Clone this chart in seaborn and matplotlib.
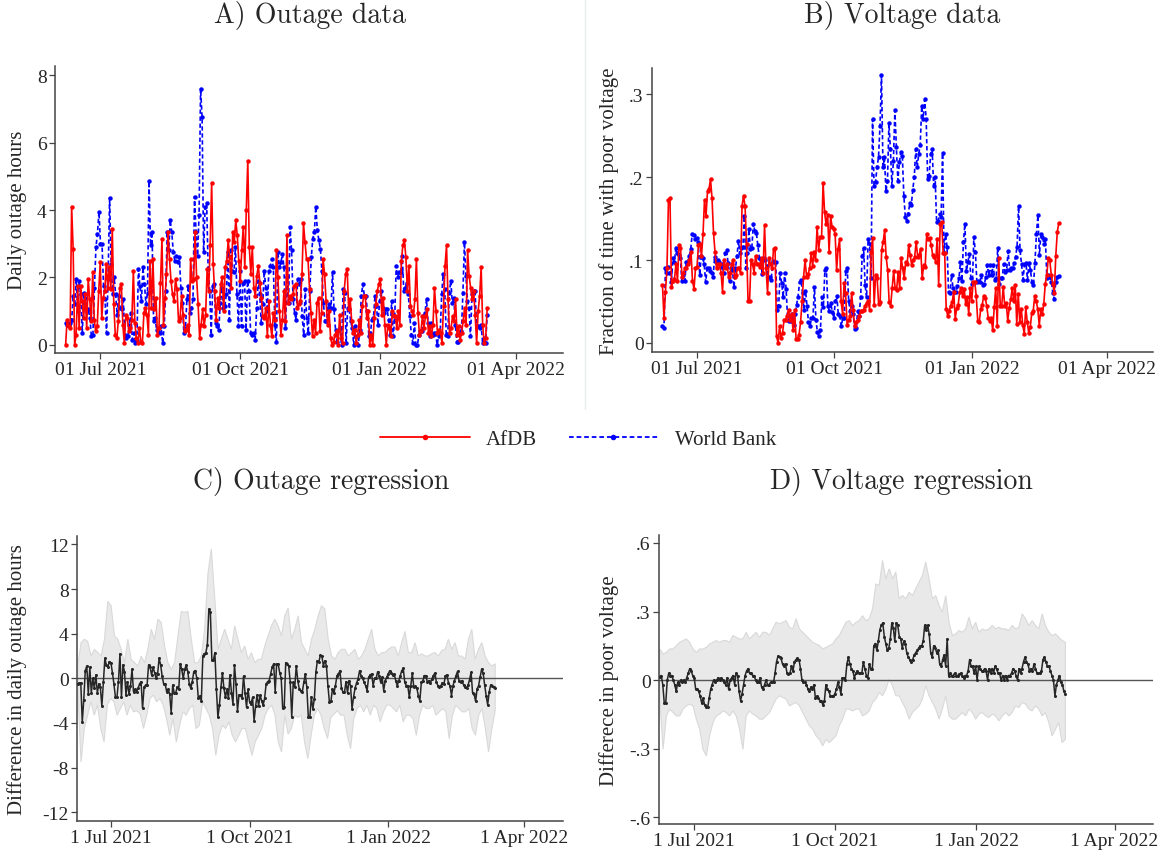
import numpy as np
import pandas as pd
import matplotlib
matplotlib.use("Agg")
import matplotlib.pyplot as plt
import matplotlib.dates as mdates
from matplotlib.lines import Line2D
import seaborn as sns

# ---------------- data ----------------
out_start, out_end = "2021-06-08", "2022-03-13"
volt_start, volt_end = "2021-06-08", "2022-02-28"
reg_out_start, reg_out_end = "2021-06-09", "2022-03-13"
reg_volt_start, reg_volt_end = "2021-06-09", "2022-02-28"

out_afdb = [0, 0.75, 0.55, 0.5, 4.1, 2.85, 0, 0.3, 1.75, 0.5, 1.75, 1.3, 0.8, 1.5, 0.5, 1.95, 1.35, 0.7, 2.15, 0.75,
            0.4, 0.55, 1.6, 2.45, 0.8, 1.4, 1.6, 2.4, 1.7, 2.3, 1.65, 3.45, 1.2, 0.3, 0.2, 0.7, 1.7, 1.8, 0.6, 0.05,
            0.9, 0.8, 0.4, 0.5, 0.75, 2.2, 0.65, 0.2, 0.05, 0.5, 0.1, 0.05, 0.95, 1.1, 0.9, 0.3, 2.5, 1.1, 2.55, 1.05,
            1.4, 0.3, 0.5, 1.85, 3.15, 0.6, 1.4, 2.1, 3.35, 2.55, 1.9, 1.5, 1.3, 1.95, 1.65, 0.7, 0.8, 1.45, 0.9, 0.4,
            0.45, 0.6, 0.3, 2.55, 1.9, 1.95, 3.35, 2.0, 1.2, 0.2, 0.6, 1.05, 0.55, 0.9, 2.25, 1.6, 2.95, 4.8, 2.4, 1.6,
            0.75, 1.4, 1.1, 1.8, 2.0, 1.0, 2.3, 2.5, 3.1, 2.6, 1.7, 3.35, 3.05, 3.7, 3.25, 2.5, 1.9, 2.8, 3.5, 2.3,
            4.0, 5.45, 2.9, 2.1, 2.9, 1.7, 1.45, 2.05, 2.35, 1.85, 1.4, 0.85, 0.8, 1.1, 0.25, 1.3, 0.6, 0.25, 0.95, 0.75,
            2.8, 2.0, 1.0, 0.3, 0.75, 1.6, 0.7, 3.25, 1.25, 1.45, 1.35, 1.5, 1.75, 1.8, 1.1, 1.2, 1.3, 2.1, 3.6, 3.05,
            2.55, 2.55, 1.65, 0.95, 0.25, 0.75, 0.35, 1.25, 1.4, 0.4, 0.95, 2.55, 2.1, 1.3, 0.6, 1.0, 0.2, 0.0, 0.1, 0.3,
            0.4, 0.0, 0.9, 0.2, 0.05, 1.6, 2.1, 2.25, 1.05, 1.35, 0.7, 0.35, 0.45, 0.05, 0.3, 0.75, 0.35, 1.15, 1.45, 1.45,
            0.8, 1.0, 0.0, 0.3, 0.0, 0.8, 1.2, 1.6, 1.8, 1.95, 0.9, 1.4, 0.6, 0.0, 0.6, 0.5, 0.25, 1.0, 0.85, 0.85,
            0.5, 1.0, 0.6, 2.5, 2.95, 3.1, 2.6, 1.6, 2.35, 1.15, 1.0, 0.9, 1.35, 2.55, 0.95, 0.3, 0.4, 0.85, 0.5, 0.85,
            1.05, 0.35, 0.55, 0.25, 0.6, 1.7, 1.0, 0.35, 0.45, 0.35, 0.05, 1.15, 2.35, 2.95, 1.35, 0.35, 0.5, 0.85, 0.7, 1.35,
            0.3, 0.55, 0.15, 0.35, 0.7, 1.1, 0.6, 2.8, 2.05, 1.7, 1.35, 1.6, 0.9, 0.05, 1.0, 1.45, 2.3, 0.6, 0.05, 0.2,
            1.1]
out_wb = [0.65, 0.6, 0.6, 0.65, 0.75, 1.45, 1.2, 1.95, 1.0, 1.9, 1.5, 0.35, 1.55, 1.4, 1.0, 1.05, 0.8, 0.25, 0.3, 1.7,
          2.9, 3.3, 3.95, 3.0, 3.0, 1.75, 1.35, 0.35, 1.95, 4.35, 2.4, 1.5, 2.0, 1.5, 0.9, 1.45, 1.1, 1.05, 1.35, 0.3,
          0.2, 0.25, 0.6, 0.95, 0.15, 0.35, 0.05, 0.15, 2.25, 1.75, 1.3, 2.3, 1.8, 1.2, 1.55, 4.85, 2.95, 3.35, 0.7, 0.8,
          0.45, 0.4, 0.35, 0.55, 0.05, 0.55, 1.6, 3.35, 2.8, 3.7, 3.35, 2.75, 2.5, 2.65, 2.45, 2.6, 1.7, 1.25, 0.35, 0.5,
          1.35, 1.75, 0.95, 1.1, 1.35, 4.4, 3.35, 2.65, 3.85, 7.6, 6.75, 2.75, 4.1, 4.2, 2.25, 1.6, 0.3, 1.75, 1.8, 0.65,
          0.55, 0.45, 1.25, 1.7, 1.1, 1.15, 1.5, 2.75, 0.75, 2.8, 2.2, 2.15, 2.9, 1.5, 0.55, 2.2, 0.55, 1.85, 1.9, 0.45,
          1.9, 1.6, 0.35, 0.3, 0.35, 0.15, 1.1, 1.9, 1.5, 0.65, 1.2, 2.2, 1.7, 1.0, 2.2, 2.35, 2.55, 2.3, 0.6, 0.1,
          2.75, 2.3, 2.45, 2.7, 2.3, 0.5, 2.0, 1.25, 3.5, 2.8, 1.35, 0.95, 0.75, 1.95, 1.8, 1.95, 0.85, 0.3, 1.65, 0.8,
          0.35, 1.6, 2.6, 3.15, 3.35, 4.1, 3.4, 3.1, 2.85, 2.2, 1.25, 0.7, 0.7, 1.1, 1.2, 1.1, 2.15, 1.05, 0.45, 0.1,
          0.45, 0.5, 0.0, 1.65, 1.55, 0.05, 1.1, 1.05, 0.7, 0.5, 0.0, 0.55, 0.25, 0.0, 0.45, 1.45, 1.8, 1.45, 1.45, 1.0,
          0.25, 0.35, 0.75, 0.8, 1.45, 1.15, 0.6, 1.3, 1.6, 1.1, 0.95, 1.05, 1.05, 0.75, 0.3, 1.3, 0.25, 0.75, 2.35, 2.0,
          2.15, 2.15, 2.65, 1.6, 1.7, 1.85, 1.5, 0.85, 0.3, 0.05, 0.65, 0.0, 0.0, 0.3, 0.4, 0.4, 0.85, 0.95, 1.35, 0.65,
          0.25, 0.65, 0.3, 0.35, 0.35, 0.0, 0.25, 0.35, 1.5, 2.1, 1.65, 0.3, 0.25, 1.55, 1.9, 1.25, 1.4, 0.6, 0.1, 0.1,
          0.35, 0.4, 1.55, 3.05, 2.05, 1.3, 1.1, 0.25, 1.5, 1.6, 1.6, 0.55, 0.55, 0.5, 0.6, 0.05, 0.2, 0.05, 0.9]

volt_afdb = [0.07, 0.03, 0.062, 0.09, 0.173, 0.175, 0.068, 0.075, 0.077, 0.095, 0.075, 0.118, 0.115, 0.08, 0.085, 0.09,
             0.09, 0.095, 0.1, 0.11, 0.075, 0.065, 0.09, 0.092, 0.118, 0.12, 0.105, 0.131, 0.173, 0.153, 0.183, 0.186,
             0.198, 0.175, 0.133, 0.11, 0.09, 0.095, 0.095, 0.085, 0.062, 0.1, 0.09, 0.095, 0.08, 0.085, 0.095, 0.1,
             0.08, 0.082, 0.09, 0.09, 0.085, 0.165, 0.178, 0.165, 0.12, 0.05, 0.05, 0.1, 0.095, 0.085, 0.105, 0.095,
             0.095, 0.092, 0.103, 0.085, 0.142, 0.09, 0.06, 0.103, 0.095, 0.09, 0.113, 0.115, 0.008, 0.0, 0.02, 0.006,
             0.012, 0.028, 0.028, 0.033, 0.04, 0.028, 0.035, 0.015, 0.04, 0.005, 0.005, 0.01, 0.025, 0.05, 0.08, 0.1,
             0.08, 0.083, 0.09, 0.108, 0.093, 0.11, 0.1, 0.14, 0.112, 0.128, 0.128, 0.193, 0.158, 0.143, 0.155, 0.11,
             0.153, 0.14, 0.137, 0.132, 0.088, 0.114, 0.125, 0.05, 0.035, 0.072, 0.06, 0.022, 0.028, 0.032, 0.06, 0.04,
             0.02, 0.025, 0.028, 0.032, 0.038, 0.038, 0.04, 0.045, 0.048, 0.05, 0.04, 0.11, 0.127, 0.046,
             0.082, 0.078, 0.047, 0.049, 0.112, 0.122, 0.136, 0.104, 0.088, 0.049, 0.045, 0.066, 0.087, 0.066, 0.064,
             0.086, 0.066, 0.103, 0.09, 0.078, 0.098, 0.095, 0.118, 0.106, 0.094, 0.1, 0.104, 0.122, 0.104, 0.106,
             0.114, 0.078, 0.094, 0.092, 0.131, 0.125, 0.127, 0.118, 0.106, 0.104, 0.098, 0.126, 0.07, 0.144, 0.146,
             0.108, 0.108, 0.041, 0.033, 0.038, 0.045, 0.049, 0.062, 0.029, 0.042, 0.046, 0.062, 0.066, 0.057, 0.065,
             0.047, 0.055, 0.035, 0.066, 0.051, 0.074, 0.074, 0.057, 0.027, 0.025, 0.041, 0.046, 0.057, 0.054, 0.045,
             0.03, 0.027, 0.03, 0.015, 0.043, 0.066, 0.021, 0.102, 0.045, 0.045, 0.068, 0.044, 0.048, 0.027, 0.042,
             0.053, 0.066, 0.05, 0.07, 0.023, 0.059, 0.025, 0.041, 0.022, 0.011, 0.043, 0.025, 0.012, 0.019, 0.036,
             0.039, 0.057, 0.05, 0.041, 0.021, 0.041, 0.035, 0.047, 0.071, 0.082, 0.102, 0.1, 0.082, 0.071, 0.06,
             0.105, 0.134, 0.145]
volt_wb = [0.02, 0.018, 0.09, 0.085, 0.092, 0.085, 0.073, 0.102, 0.098, 0.115, 0.108, 0.106, 0.102, 0.075, 0.082, 0.075,
           0.098, 0.098, 0.105, 0.114, 0.132, 0.13, 0.125, 0.127, 0.122, 0.082, 0.105, 0.103, 0.095, 0.073, 0.09, 0.09,
           0.087, 0.085, 0.08, 0.104, 0.098, 0.1, 0.098, 0.092, 0.095, 0.085, 0.108, 0.112, 0.097, 0.075, 0.09, 0.088,
           0.067, 0.09, 0.105, 0.123, 0.108, 0.115, 0.116, 0.153, 0.09, 0.108, 0.137, 0.113, 0.115, 0.144, 0.135, 0.133,
           0.118, 0.103, 0.1, 0.083, 0.102, 0.1, 0.093, 0.079, 0.08, 0.076, 0.099, 0.098, 0.098, 0.04, 0.045, 0.085,
           0.072, 0.055, 0.085, 0.065, 0.028, 0.027, 0.026, 0.035, 0.022, 0.035, 0.046, 0.056, 0.073, 0.076, 0.06, 0.04,
           0.063, 0.045, 0.025, 0.02, 0.03, 0.03, 0.067, 0.028, 0.013, 0.008, 0.015, 0.055, 0.043, 0.088, 0.09, 0.045,
           0.038, 0.048, 0.037, 0.03, 0.05, 0.057, 0.035, 0.033, 0.02, 0.03, 0.03, 0.087, 0.09, 0.05, 0.038, 0.045,
           0.035, 0.017, 0.018, 0.038, 0.033, 0.055, 0.105, 0.115, 0.07, 0.055, 0.125, 0.12, 0.078,
           0.27, 0.19, 0.194, 0.212, 0.224, 0.262, 0.323, 0.212, 0.224, 0.183, 0.195, 0.265, 0.234, 0.19, 0.22, 0.281,
           0.236, 0.196, 0.218, 0.23, 0.226, 0.178, 0.152, 0.147, 0.156, 0.169, 0.166, 0.185, 0.2, 0.234, 0.212, 0.228,
           0.239, 0.286, 0.271, 0.294, 0.27, 0.198, 0.202, 0.228, 0.234, 0.19, 0.2, 0.146, 0.147, 0.156, 0.152, 0.229,
           0.108, 0.131, 0.116, 0.062, 0.06, 0.082, 0.066, 0.062, 0.061, 0.069, 0.078, 0.098, 0.075, 0.122, 0.144,
           0.087, 0.098, 0.107, 0.078, 0.071, 0.128, 0.11, 0.074, 0.075, 0.074, 0.082, 0.07, 0.071, 0.079, 0.094,
           0.082, 0.094, 0.082, 0.094, 0.076, 0.078, 0.115, 0.071, 0.078, 0.078, 0.095, 0.086, 0.088, 0.111, 0.088,
           0.09, 0.09, 0.096, 0.104, 0.116, 0.165, 0.112, 0.095, 0.076, 0.095, 0.096, 0.076, 0.097, 0.088, 0.073,
           0.07, 0.097, 0.132, 0.154, 0.106, 0.131, 0.128, 0.12, 0.126, 0.078, 0.082, 0.079, 0.074, 0.06, 0.053,
           0.074, 0.079, 0.081]

reg_out = [-0.5, -0.4, -0.4, -3.9, -1.9, 0.7, 1.1, -1.4, 1.0, -1.3, 0.0, -0.9, 0.3, -1.3, -0.5, -0.8, -2.5, -0.3, 1.8, 1.2,
           1.0, 1.5, 1.4, 0.5, -0.5, -1.7, -1.7, -0.3, 2.2, -1.7, 1.2, 0.6, -1.5, -0.3, -1.4, -0.7, 0.8, -1.2, -1.0, -1.2,
           -0.9, -0.5, -0.3, -2.7, -0.8, -0.6, -0.6, 1.2, 1.0, 0.3, 1.0, 0.5, 0.0, 0.4, 1.8, 1.2, 0.2, -0.5, -0.5, -1.2,
           -1.0, -1.4, -3.1, -0.6, -1.3, -1.3, -0.8, -1.0, 1.3, 0.8, 0.0, 0.8, 1.2, 0.6, -0.5, -0.9, -0.3, 0.6, 0.7, 0.0,
           -1.8, -1.6, -2.0, 2.0, 2.2, 2.3, 3.0, 6.2, 5.9, 1.6, 1.6, 2.3, -1.0, -3.5, -2.4, -0.8, 0.5, -0.9, -1.7, -1.0,
           -1.8, 0.3, -1.3, -2.3, 1.2, -0.5, -2.9, -1.5, -1.5, -1.8, 0.2, -1.3, -2.6, -1.0, -2.1, -2.3, -1.7, -3.8, -2.5,
           -1.5, -2.5, -1.5, -2.0, -2.4, -1.8, -0.5, -0.3, -0.2, 0.4, 1.0, 1.3, -1.2, 1.3, 1.3, 0.5, 0.0, -2.7, -2.6, 1.4,
           1.3, 1.07, -0.36, -3.47, -0.36, -0.8, 1.13, -0.21, -0.95, -1.1, -1.24, -0.36, 0.39, -0.8, -3.47, -3.47,
           -1.69, -2.73, -1.84, 0.53, 1.57, 1.48, 2.07, 1.96, 1.13, 1.57, 1.13, -0.65, -2.13, -2.07, -0.95, -1.3,
           -0.65, 0.24, 0.39, 0.68, -0.89, -1.24, -1.24, -0.3, -1.3, -0.21, -0.65, -2.73, -1.69, -0.89, -0.41, -0.06,
           0.68, 0.24, 0.03, -0.36, -0.65, -1.1, 0.09, 0.3, 0.39, -0.65, 0.0, 0.0, 0.59, 0.24, -0.36, 0.09, -1.1,
           -0.21, 0.09, 0.39, 0.68, 0.47, 0.3, 0.39, -0.21, -0.65, -0.21, 0.24, 0.68, 0.89, -0.36, -0.65, -0.65, -1.69,
           -0.65, 0.47, -0.8, -0.71, -0.89, -1.54, -2.01, -0.36, -0.21, 0.24, 0.24, -0.36, -0.21, -0.41, -0.06, 0.24,
           0.47, -0.36, -0.65, -0.8, -0.65, -0.41, -0.5, 0.24, 0.3, -0.41, -0.65, -1.54, -0.65, -0.21, 0.24, 0.62,
           -0.21, -0.3, -0.21, -0.59, -0.8, -0.89, -0.59, -0.12, 0.53, -1.3, -1.39, -2.07, -0.95, -0.65, 0.09, 0.83,
           0.47, -0.59, -1.54, -2.37, -1.24, -0.59, -0.71, -0.8, -0.89]
reg_out_hi = [1.1, 3.2, 3.5, 3.3, 2.0, 2.6, 2.3, 2.0, 3.5, 6.9, 6.5, 3.8, 3.5, 2.6, 1.4, 3.5, 1.7, 1.4, 1.1, 2.0, 1.4,
              2.6, 4.4, 3.5, 5.3, 5.0, 2.9, 1.4, 0.8, 1.4, 3.8, 6.0, 5.9, 6.0, 3.5, 1.4, 1.4, 2.0, 4.4, 9.4, 11.6, 7.3,
              2.6, 3.5, 4.4, 3.5, 2.6, 4.7, 3.5, 2.3, 2.9, 1.7, 2.3, 1.4, 1.7, 1.7, 2.9, 3.8, 4.7, 5.3, 4.7, 3.8, 5.6,
              6.3, 3.5, 4.4, 5.6, 3.2, 2.6, 2.0, 3.5, 4.4, 5.6, 6.5, 6.2, 3.5, 2.0, 1.7, 2.3, 2.6, 2.6, 2.0, 2.3, 2.6,
              1.7, 2.0, 2.6, 3.5, 4.4, 2.6, 2.0, 2.3, 2.3, 2.6, 2.8, 2.8, 2.0, 3.2, 4.2, 2.3, 2.3, 3.2, 2.0, 2.2, 2.0,
              2.0, 2.2, 2.3, 2.0, 2.5, 2.6, 3.5, 2.6, 3.2, 2.0, 2.0, 1.7, 3.5, 4.4, 1.7, 2.6, 3.2, 2.0, 1.4, 1.1, 1.3]
reg_out_lo = [-0.95, -7.5, -4.5, -3.3, -2.1, -3.3, -2.4, -4.5, -5.7, -2.4, -1.8, -2.1, -3.3, -2.7, -2.1, -3.3, -2.4,
              -3.0, -2.9, -3.2, -4.5, -3.3, -1.8, -1.5, -2.1, -1.8, -2.4, -3.6, -5.1, -3.6, -5.7, -4.2, -3.0, -3.3,
              -2.7, -2.4, -4.5, -4.2, -2.1, -2.7, -3.3, -4.5, -6.9, -5.1, -4.2, -4.5, -3.9, -5.1, -5.7, -5.1, -4.5,
              -4.5, -5.7, -6.9, -5.7, -5.1, -4.5, -3.3, -2.7, -2.4, -3.3, -5.7, -6.6, -3.3, -5.0, -4.5, -3.3, -3.5,
              -3.3, -5.7, -7.2, -5.1, -3.3, -2.7, -3.3, -4.5, -5.4, -3.5, -3.2, -2.9, -3.3, -3.3, -5.1, -6.3, -3.6,
              -2.7, -2.4, -3.0, -2.4, -3.3, -2.4, -2.7, -3.9, -3.0, -2.4, -2.4, -2.7, -3.0, -2.4, -3.9, -3.3, -3.3,
              -3.6, -5.1, -3.3, -2.4, -2.7, -2.7, -2.4, -3.3, -3.0, -2.7, -3.0, -5.4, -3.3, -2.4, -2.7, -3.0, -3.0,
              -2.7, -4.5, -5.1, -3.3, -2.7, -4.5, -6.6, -4.5, -2.9]

reg_volt = [0.015, 0.02, -0.02, -0.1, -0.1, 0.0, 0.03, 0.02, 0.02, 0.0, -0.02, -0.05, -0.01, -0.02, 0.0, -0.01, 0.0,
            -0.01, 0.01, 0.03, 0.05, 0.04, 0.02, 0.01, -0.04, -0.04, -0.05, -0.07, -0.1, -0.08, -0.11, -0.12, -0.12,
            -0.08, -0.04, -0.02, 0.0, -0.01, 0.0, 0.01, 0.0, 0.01, 0.0, -0.01, -0.02, 0.01, -0.04, 0.0, 0.01, 0.02,
            -0.02, 0.03, 0.02, -0.05, -0.09, -0.06, -0.02, 0.02, 0.04, 0.05, 0.03, 0.03, 0.02, 0.02, 0.0, -0.01, -0.01,
            0.01, -0.03, -0.04, -0.02, 0.0, -0.02, -0.02, -0.01, -0.01, -0.01, 0.03, 0.08, 0.105, 0.1, 0.095, 0.07,
            0.06, 0.07, 0.03, 0.025, 0.03, 0.06, 0.04, 0.08, 0.09, 0.095, 0.09, 0.05, 0.0, -0.01, -0.01, -0.02, -0.04,
            -0.05, -0.03, -0.04, -0.02, -0.08, -0.07, -0.08, -0.09, -0.09, -0.11, -0.09, -0.02, -0.04, -0.05, -0.07,
            -0.07, -0.07, -0.06, -0.04, -0.01, -0.03, -0.06, 0.01, 0.01, 0.0, 0.07, 0.1, 0.07, 0.05, 0.04, 0.01, 0.03,
            0.04, 0.03, 0.03, 0.03, 0.08, 0.05, 0.02, 0.01, 0.07, 0.05, 0.05, 0.15, 0.16, 0.13, 0.17,
            0.22, 0.24, 0.25, 0.19, 0.16, 0.13, 0.14, 0.18, 0.25, 0.23, 0.17, 0.25, 0.24, 0.19, 0.18, 0.14, 0.17, 0.16,
            0.12, 0.10, 0.09, 0.08, 0.09, 0.11, 0.12, 0.13, 0.14, 0.15, 0.15, 0.17, 0.24, 0.22, 0.24, 0.2, 0.12, 0.1,
            0.15, 0.14, 0.12, 0.13, 0.07, 0.06, 0.09, 0.11, 0.06, 0.18, 0.02, 0.03, 0.02, 0.02, 0.03, 0.02, 0.02,
            0.025, 0.03, 0.02, 0.01, 0.02, 0.02, 0.04, 0.09, 0.06, 0.06, 0.03, 0.06, 0.0, 0.06, 0.05, 0.04, 0.04,
            0.05, 0.04, 0.0, 0.05, 0.03, 0.05, 0.03, 0.06, 0.05, 0.03, 0.03, 0.0, 0.02, 0.0, 0.02, 0.0, 0.02, 0.02,
            0.03, 0.05, 0.04, 0.02, 0.0, 0.05, 0.03, 0.05, 0.08, 0.1, 0.08, 0.07, 0.04, 0.05, 0.04, 0.07, 0.05, 0.03,
            0.03, 0.03, 0.04, 0.09, 0.1, 0.08, 0.06, 0.06, 0.04, 0.02, 0.0, -0.07, -0.02, 0.0, 0.02, -0.01, -0.02,
            -0.05, -0.06]
reg_volt_hi = [0.136, 0.114, 0.121, 0.136, 0.136, 0.151, 0.165, 0.173, 0.18, 0.165, 0.136, 0.121, 0.136, 0.136, 0.143,
               0.158, 0.165, 0.173, 0.165, 0.173, 0.173, 0.165, 0.195, 0.187, 0.18, 0.18, 0.209, 0.18, 0.195, 0.209,
               0.187, 0.209, 0.209, 0.195, 0.224, 0.253, 0.246, 0.253, 0.26, 0.231, 0.224, 0.268, 0.224, 0.209, 0.195,
               0.18, 0.165, 0.158, 0.151, 0.136, 0.143, 0.151, 0.158, 0.18, 0.195, 0.224, 0.253, 0.26, 0.239, 0.253,
               0.26, 0.282, 0.26, 0.268, 0.312, 0.421, 0.414, 0.524, 0.443, 0.487, 0.443, 0.473, 0.356, 0.37, 0.356,
               0.385, 0.37, 0.4, 0.429, 0.458, 0.517, 0.443, 0.356, 0.37, 0.326, 0.297, 0.37, 0.253, 0.195, 0.202,
               0.217, 0.209, 0.224, 0.275, 0.224, 0.253, 0.209, 0.224, 0.217, 0.224, 0.239, 0.224, 0.231, 0.224, 0.224,
               0.217, 0.239, 0.224, 0.231, 0.29, 0.268, 0.239, 0.26, 0.239, 0.224, 0.29, 0.239, 0.209, 0.195, 0.202,
               0.187, 0.173, 0.165]
reg_volt_lo = [-0.083, -0.303, -0.157, -0.127, -0.142, -0.157, -0.157, -0.127, -0.113, -0.105, -0.113, -0.171, -0.215,
               -0.303, -0.332, -0.244, -0.186, -0.157, -0.149, -0.135, -0.142, -0.157, -0.135, -0.157, -0.215, -0.303,
               -0.157, -0.135, -0.149, -0.157, -0.171, -0.171, -0.157, -0.142, -0.113, -0.083, -0.069, -0.076, -0.083,
               -0.113, -0.105, -0.098, -0.113, -0.142, -0.171, -0.2, -0.215, -0.244, -0.259, -0.288, -0.259, -0.274,
               -0.259, -0.244, -0.2, -0.171, -0.127, -0.127, -0.135, -0.127, -0.127, -0.157, -0.149, -0.135, -0.098,
               -0.083, -0.054, -0.069, -0.04, 0.004, -0.025, -0.069, -0.069, -0.098, -0.127, -0.171, -0.142, -0.127,
               -0.113, -0.083, -0.025, -0.069, -0.098, -0.127, -0.171, -0.127, -0.069, -0.157, -0.171, -0.171, -0.157,
               -0.142, -0.157, -0.127, -0.142, -0.171, -0.149, -0.142, -0.157, -0.164, -0.149, -0.157, -0.179, -0.157,
               -0.142, -0.157, -0.142, -0.113, -0.12, -0.098, -0.105, -0.127, -0.135, -0.113, -0.127, -0.157, -0.142,
               -0.186, -0.244, -0.215, -0.186, -0.274, -0.259]

tick_dates = ["2021-07-01", "2021-10-01", "2022-01-01", "2022-04-01"]
tick_labels_top = ["01 Jul 2021", "01 Oct 2021", "01 Jan 2022", "01 Apr 2022"]
tick_labels_bot = ["1 Jul 2021", "1 Oct 2021", "1 Jan 2022", "1 Apr 2022"]
yt_out = [0, 2, 4, 6, 8]
yt_volt = [0, 0.1, 0.2, 0.3]
yt_volt_lab = ["0", ".1", ".2", ".3"]
yt_rout = [-12, -8, -4, 0, 4, 8, 12]
yt_rout_lab = ["-12", "-8", "-4", "0", "4", "8", "12"]
yt_rvolt = [-0.6, -0.3, 0, 0.3, 0.6]
yt_rvolt_lab = ["-.6", "-.3", "0", ".3", ".6"]

# ---------------- style ----------------
sns.set_theme(style="white")
plt.rcParams["font.family"] = ["Liberation Serif", "DejaVu Serif"]
RED, BLUE = "#ff0000", "#0000ff"
TITLE_FONT = dict(family="cmr10", size=20)

fig = plt.figure(figsize=(11.62, 8.54), dpi=100)
W, H = 1162, 854


def add_ax(l, t, r, b):
    return fig.add_axes([l / W, 1 - b / H, (r - l) / W, (b - t) / H])


axA = add_ax(55, 67, 563, 354)
axB = add_ax(652, 69, 1153, 353)
axC = add_ax(77, 537, 563, 822)
axD = add_ax(659, 536, 1153, 825)


def dr(s, e, n):
    return pd.date_range(s, e, periods=n)


def style_axis(ax, xlim, ylim, yt, ylab, xlabels, ylabel, ylab_x):
    for s in ["top", "right"]:
        ax.spines[s].set_visible(False)
    for s in ["left", "bottom"]:
        ax.spines[s].set_color("#444444")
        ax.spines[s].set_linewidth(1.1)
    ax.set_xlim(pd.Timestamp(xlim[0]), pd.Timestamp(xlim[1]))
    ax.set_ylim(*ylim)
    ax.set_xticks([pd.Timestamp(d) for d in tick_dates])
    ax.set_xticklabels(xlabels)
    ax.set_yticks(yt)
    ax.set_yticklabels(ylab)
    ax.tick_params(axis="both", which="major", direction="out", length=4, width=0.9,
                   color="#444444", labelsize=14, pad=2, bottom=True, left=True)
    ax.set_xlabel("")
    ax.set_ylabel(ylabel, fontsize=15)
    ax.yaxis.set_label_coords(ylab_x, 0.5)
    ax.grid(False)


# ---- panel A ----
sns.lineplot(x=dr(out_start, out_end, len(out_wb)), y=out_wb, ax=axA, color=BLUE, lw=1.2,
             linestyle=(0, (2.6, 1.6)), marker="o", markersize=3.2, markeredgewidth=0)
sns.lineplot(x=dr(out_start, out_end, len(out_afdb)), y=out_afdb, ax=axA, color=RED, lw=1.2,
             marker="o", markersize=3.2, markeredgewidth=0)
style_axis(axA, ("2021-06-01", "2022-05-02"), (-0.24, 8.27), yt_out, [str(v) for v in yt_out],
           tick_labels_top, "Daily outage hours", -0.055)

# ---- panel B ----
sns.lineplot(x=dr(volt_start, volt_end, len(volt_wb)), y=volt_wb, ax=axB, color=BLUE, lw=1.2,
             linestyle=(0, (2.6, 1.6)), marker="o", markersize=3.2, markeredgewidth=0)
sns.lineplot(x=dr(volt_start, volt_end, len(volt_afdb)), y=volt_afdb, ax=axB, color=RED, lw=1.2,
             marker="o", markersize=3.2, markeredgewidth=0)
style_axis(axB, ("2021-06-01", "2022-05-02"), (-0.011, 0.332), yt_volt, yt_volt_lab,
           tick_labels_top, "Fraction of time with poor voltage", -0.066)


# ---- regression panels ----
def reg_panel(ax, vals, hi, lo, s, e):
    xd = dr(s, e, len(vals))
    sns.lineplot(x=xd, y=vals, ax=ax, color="#262626", lw=1.1, marker="o", markersize=2.2,
                 markeredgewidth=0, zorder=3)
    xh = mdates.date2num(dr(s, e, len(hi)))
    xl = mdates.date2num(dr(s, e, len(lo)))
    px = np.concatenate([xh, xl[::-1]])
    py = np.concatenate([np.asarray(hi), np.asarray(lo)[::-1]])
    ax.fill(px, py, facecolor="#e9e9e9", edgecolor="#d9d9d9", lw=0.8, zorder=1)
    ax.axhline(0, color="#555555", lw=1.0, zorder=2)


reg_panel(axC, reg_out, reg_out_hi, reg_out_lo, reg_out_start, reg_out_end)
style_axis(axC, ("2021-06-08 12:00", "2022-04-27"), (-12.78, 12.75), yt_rout, yt_rout_lab,
           tick_labels_bot, "Difference in daily outage hours", -0.103)
reg_panel(axD, reg_volt, reg_volt_hi, reg_volt_lo, reg_volt_start, reg_volt_end)
style_axis(axD, ("2021-06-08 12:00", "2022-04-26"), (-0.63, 0.635), yt_rvolt, yt_rvolt_lab,
           tick_labels_bot, "Differece in poor voltage", -0.081)

# titles
fig.text(310 / W, 1 - 15 / H, "A) Outage data", ha="center", va="center", **TITLE_FONT)
fig.text(902 / W, 1 - 15 / H, "B) Voltage data", ha="center", va="center", **TITLE_FONT)
fig.text(321 / W, 1 - 482 / H, "C) Outage regression", ha="center", va="center", **TITLE_FONT)
fig.text(901 / W, 1 - 482 / H, "D) Voltage regression", ha="center", va="center", **TITLE_FONT)

# divider line
fig.add_artist(Line2D([585 / W, 585 / W], [1 - 410 / H, 1.0], transform=fig.transFigure,
                      color="#e8ecef", lw=1.0))

# legend
handles = [Line2D([], [], color=RED, lw=1.3, marker="o", markersize=4, markeredgewidth=0),
           Line2D([], [], color=BLUE, lw=1.3, linestyle=(0, (2.6, 1.6)), marker="o", markersize=4,
                  markeredgewidth=0)]
fig.legend(handles, ["AfDB", "World Bank"], loc="center", bbox_to_anchor=(578 / W, 1 - 440 / H),
           ncol=2, frameon=False, fontsize=15, handlelength=4.3, columnspacing=1.5, handletextpad=0.8)

fig.savefig("out.png", dpi=100)
